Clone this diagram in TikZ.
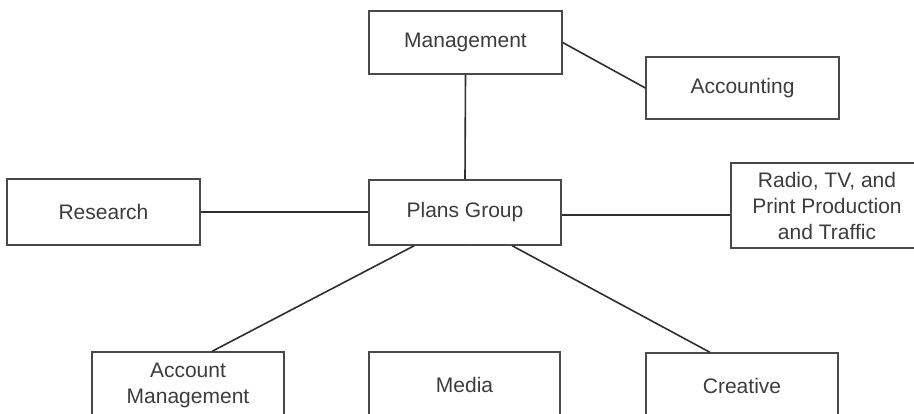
\documentclass[tikz,border=0pt]{standalone}
\usepackage{fontspec}
\setmainfont{Liberation Sans}
\usetikzlibrary{calc}
\definecolor{ink}{HTML}{2E2E2E}
\definecolor{boxline}{HTML}{4A4A4A}
\definecolor{txt}{HTML}{3C3C3C}
\begin{document}
\begin{tikzpicture}[x=1pt,y=-1pt,
  box/.style={draw=boxline, line width=1.3pt, rectangle, inner sep=0pt,
    minimum width=192pt, minimum height=65pt, align=center, text=txt,
    font=\fontsize{21}{26}\selectfont},
  link/.style={draw=ink, line width=1.6pt}]
\useasboundingbox (0,0) rectangle (914,414);
\clip (0,0) rectangle (914,414);

% boxes
\node[box, minimum width=193pt, minimum height=63pt] (mgmt) at (465.5,42.5) {Management};
\node[box, minimum width=193pt, minimum height=62pt] (acct) at (742.5,88) {Accounting};
\node[box, minimum width=193pt, minimum height=66pt] (research) at (103.5,212) {Research};
\node[box] (plans) at (465,212.5) {Plans Group};
\node[box, minimum height=85pt] (radio) at (827,205.5) {Radio, TV, and\\Print Production\\and Traffic};
\node[box, minimum height=66pt] (acctmgmt) at (188,385) {Account\\Management};
\node[box, minimum width=191pt, minimum height=66pt] (media) at (464.5,385) {Media};
\node[box, minimum height=66pt] (creative) at (742,386) {Creative};

% connectors
\draw[link] (mgmt.east) -- (acct.west);
\draw[link] (mgmt.south) -- (plans.north);
\draw[link] (research.east) -- (research.east -| plans.west);
\draw[link] ([yshift=-2.5pt]plans.east) -- ([yshift=-2.5pt]plans.east -| radio.west);
\draw[link] ([xshift=46pt]plans.south west) -- ([xshift=24pt]acctmgmt.north);
\draw[link] (plans.south) -- (plans.south -| media.north);
\draw[link] ([xshift=47pt]plans.south) -- ([xshift=-32pt]creative.north);
\end{tikzpicture}
\end{document}
